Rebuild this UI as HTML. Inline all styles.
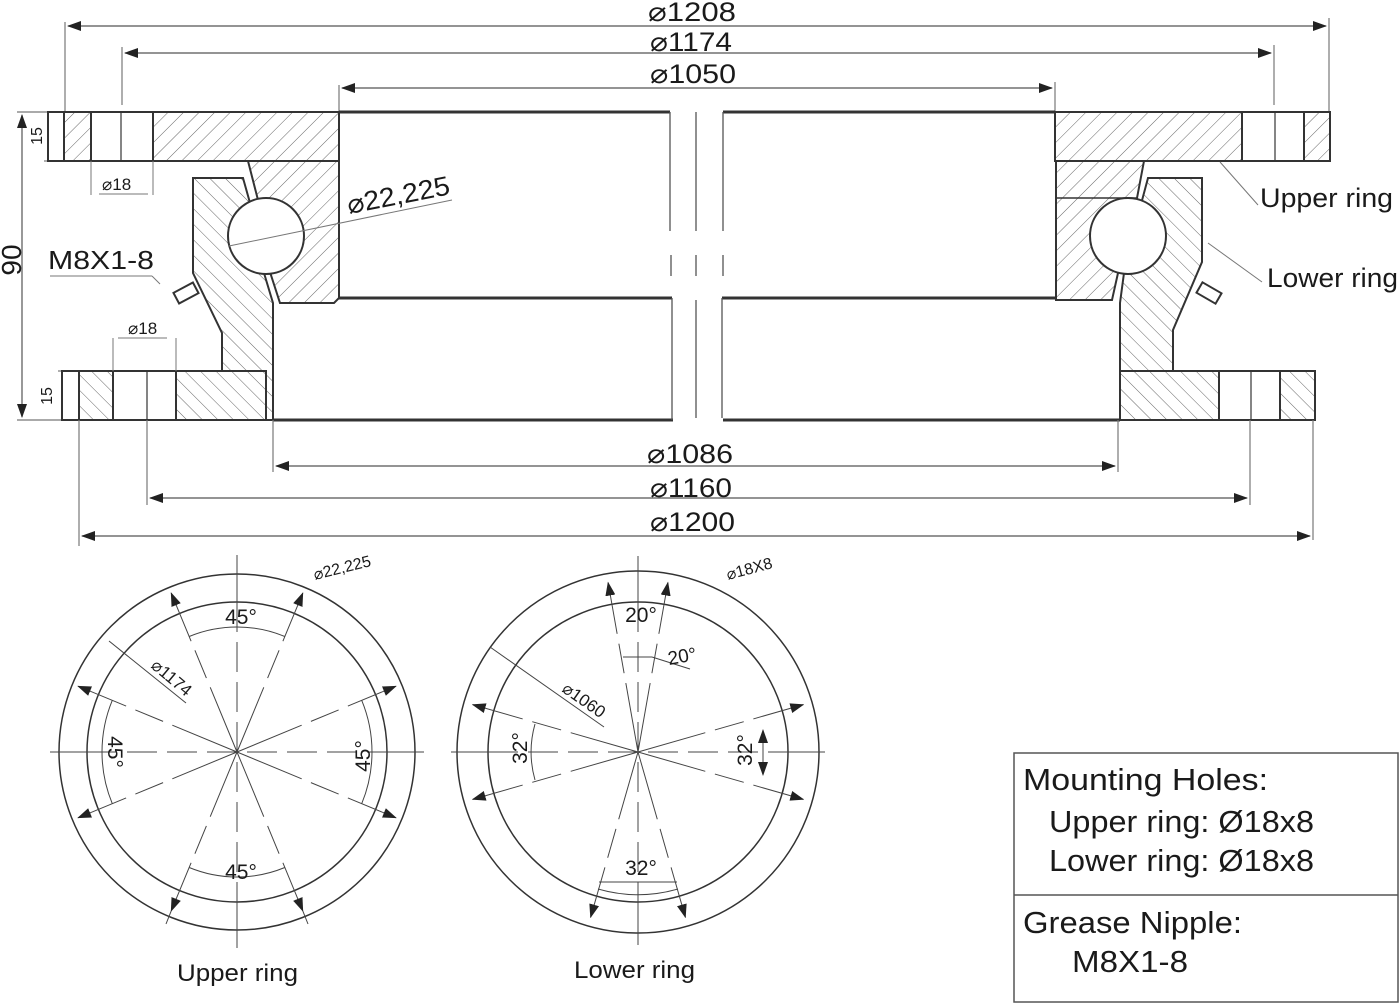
<!DOCTYPE html>
<html><head><meta charset="utf-8"><style>
html,body{margin:0;padding:0;background:#fff;}
svg{display:block;}
text{font-family:"Liberation Sans",sans-serif;fill:#1a1a1a;}
</style></head><body>
<svg width="1400" height="1004" viewBox="0 0 1400 1004" xmlns="http://www.w3.org/2000/svg">
<defs>
<pattern id="hu" patternUnits="userSpaceOnUse" width="11" height="11" patternTransform="rotate(45)">
<rect width="11" height="11" fill="#fff"/><line x1="0" y1="0" x2="0" y2="11" stroke="#555" stroke-width="0.9"/></pattern>
<pattern id="hl" patternUnits="userSpaceOnUse" width="11" height="11" patternTransform="rotate(-45)">
<rect width="11" height="11" fill="#fff"/><line x1="0" y1="0" x2="0" y2="11" stroke="#555" stroke-width="0.9"/></pattern>
<marker id="ar" markerWidth="14" markerHeight="10" refX="13" refY="5" orient="auto" markerUnits="userSpaceOnUse">
<path d="M0,0 L14,5 L0,10 z" fill="#222"/></marker>
<marker id="as" markerWidth="14" markerHeight="10" refX="1" refY="5" orient="auto" markerUnits="userSpaceOnUse">
<path d="M14,0 L0,5 L14,10 z" fill="#222"/></marker>
</defs>

<g stroke="#777" stroke-width="1.2" fill="none">
<line x1="65" y1="22" x2="65" y2="112"/><line x1="1329" y1="18" x2="1329" y2="112"/>
<line x1="122" y1="47" x2="122" y2="105"/><line x1="1274" y1="45" x2="1274" y2="105"/>
<line x1="339" y1="85" x2="339" y2="112"/><line x1="1055" y1="82" x2="1055" y2="112"/>
</g>
<g stroke="#555" stroke-width="1.2">
<line x1="68" y1="26" x2="1326" y2="26" marker-start="url(#as)" marker-end="url(#ar)"/>
<line x1="125" y1="53" x2="1271" y2="53" marker-start="url(#as)" marker-end="url(#ar)"/>
<line x1="342" y1="88" x2="1052" y2="88" marker-start="url(#as)" marker-end="url(#ar)"/>
</g>
<text x="648" y="21" font-size="27" textLength="88" lengthAdjust="spacingAndGlyphs">⌀1208</text>
<text x="650" y="51" font-size="27" textLength="82" lengthAdjust="spacingAndGlyphs">⌀1174</text>
<text x="650" y="83" font-size="27" textLength="86" lengthAdjust="spacingAndGlyphs">⌀1050</text>

<g stroke="#777" stroke-width="1.2">
<line x1="17" y1="112" x2="48" y2="112"/><line x1="17" y1="420" x2="62" y2="420"/>
<line x1="44" y1="161" x2="48" y2="161"/><line x1="58" y1="371" x2="62" y2="371"/>
</g>
<line x1="22" y1="115" x2="22" y2="417" stroke="#555" stroke-width="1.2" marker-start="url(#as)" marker-end="url(#ar)"/>
<text transform="translate(21,260) rotate(-90)" font-size="28" text-anchor="middle">90</text>
<text transform="translate(42,136) rotate(-90)" font-size="16" text-anchor="middle">15</text>
<text transform="translate(52,396) rotate(-90)" font-size="16" text-anchor="middle">15</text>

<g stroke="#333" stroke-width="2">
<rect x="48" y="112" width="16" height="49" fill="#fff"/>
<rect x="64" y="112" width="27" height="49" fill="url(#hu)"/>
<rect x="91" y="112" width="62" height="49" fill="#fff"/>
<line x1="121" y1="112" x2="121" y2="161" stroke-width="1.2"/>
<rect x="153" y="112" width="186" height="49" fill="url(#hu)"/>
<polygon points="248,161 339,161 339,298 334,303 280,303 270,272 266,236 258,200" fill="url(#hu)"/>
<rect x="-11" y="-6" width="22" height="12" fill="#fff" transform="translate(186,293) rotate(-28)"/>
<polygon points="193,178 243,178 252,210 266,236 264,273 273,303 273,420 266,420 266,371 222,371 222,333 193,273" fill="url(#hl)"/>
<rect x="62" y="371" width="17" height="49" fill="#fff"/>
<rect x="79" y="371" width="34" height="49" fill="url(#hl)"/>
<rect x="113" y="371" width="63" height="49" fill="#fff"/>
<line x1="147" y1="371" x2="147" y2="420" stroke-width="1.2"/>
<rect x="176" y="371" width="90" height="49" fill="url(#hl)"/>
<circle cx="266" cy="236" r="38" fill="#fff"/>
</g>
<g stroke="#333" stroke-width="2">
<rect x="1055" y="112" width="187" height="49" fill="url(#hu)"/>
<rect x="1242" y="112" width="62" height="49" fill="#fff"/>
<line x1="1275" y1="112" x2="1275" y2="161" stroke-width="1.2"/>
<rect x="1304" y="112" width="26" height="49" fill="url(#hu)"/>
<polygon points="1056,161 1144,161 1137,198 1128,236 1118,273 1112,300 1056,300" fill="url(#hu)"/>
<line x1="1056" y1="198" x2="1138" y2="198" stroke-width="1.5"/>
<rect x="-11" y="-6" width="22" height="12" fill="#fff" transform="translate(1209,293) rotate(30)"/>
<polygon points="1148,178 1202,178 1202,262 1173,330 1173,371 1120,371 1120,303 1124,273 1128,236 1140,208" fill="url(#hl)"/>
<rect x="1120" y="371" width="99" height="49" fill="url(#hl)"/>
<rect x="1219" y="371" width="61" height="49" fill="#fff"/>
<line x1="1251" y1="371" x2="1251" y2="420" stroke-width="1.2"/>
<rect x="1280" y="371" width="35" height="49" fill="url(#hl)"/>
<circle cx="1128" cy="236" r="38" fill="#fff"/>
</g>

<g stroke="#333" stroke-width="3">
<line x1="339" y1="112" x2="670" y2="112"/><line x1="723" y1="112" x2="1055" y2="112"/>
<line x1="339" y1="298" x2="672" y2="298"/><line x1="722" y1="298" x2="1056" y2="298"/>
<line x1="273" y1="420" x2="673" y2="420"/><line x1="723" y1="420" x2="1120" y2="420"/>
</g>
<g stroke="#555" stroke-width="1.3">
<line x1="670" y1="112" x2="670" y2="231"/><line x1="723" y1="112" x2="723" y2="231"/>
<line x1="696" y1="112" x2="696" y2="231"/>
<line x1="671" y1="255" x2="671" y2="276"/><line x1="696" y1="255" x2="696" y2="276"/><line x1="723" y1="255" x2="723" y2="276"/>
<line x1="672" y1="298" x2="672" y2="420"/><line x1="696" y1="300" x2="696" y2="418"/><line x1="722" y1="298" x2="722" y2="418"/>
</g>

<g stroke="#777" stroke-width="1">
<line x1="91" y1="161" x2="91" y2="195"/><line x1="153" y1="161" x2="153" y2="195"/>
<line x1="99" y1="194" x2="148" y2="194"/>
<line x1="113" y1="338" x2="113" y2="371"/><line x1="176" y1="338" x2="176" y2="371"/>
<line x1="118" y1="338" x2="167" y2="338"/>
<line x1="229" y1="246" x2="452" y2="200"/>
<line x1="50" y1="276" x2="152" y2="276"/><line x1="152" y1="276" x2="160" y2="284"/>
<line x1="1220" y1="162" x2="1258" y2="205"/>
<line x1="1208" y1="243" x2="1262" y2="282"/>
</g>
<text x="102" y="190" font-size="17">⌀18</text>
<text x="128" y="334" font-size="17">⌀18</text>
<text transform="translate(349,214) rotate(-11)" font-size="27" textLength="104" lengthAdjust="spacingAndGlyphs">⌀22,225</text>
<text x="48" y="269" font-size="26" textLength="106" lengthAdjust="spacingAndGlyphs">M8X1-8</text>
<text x="1260" y="207" font-size="27" textLength="133" lengthAdjust="spacingAndGlyphs">Upper ring</text>
<text x="1267" y="287" font-size="27" textLength="131" lengthAdjust="spacingAndGlyphs">Lower ring</text>

<g stroke="#777" stroke-width="1.2">
<line x1="273" y1="420" x2="273" y2="472"/><line x1="1118" y1="420" x2="1118" y2="472"/>
<line x1="147" y1="420" x2="147" y2="505"/><line x1="1250" y1="420" x2="1250" y2="505"/>
<line x1="79" y1="420" x2="79" y2="546"/><line x1="1313" y1="420" x2="1313" y2="540"/>
</g>
<g stroke="#555" stroke-width="1.2">
<line x1="276" y1="466" x2="1115" y2="466" marker-start="url(#as)" marker-end="url(#ar)"/>
<line x1="150" y1="498" x2="1247" y2="498" marker-start="url(#as)" marker-end="url(#ar)"/>
<line x1="82" y1="536" x2="1310" y2="536" marker-start="url(#as)" marker-end="url(#ar)"/>
</g>
<text x="647" y="463" font-size="27" textLength="86" lengthAdjust="spacingAndGlyphs">⌀1086</text>
<text x="650" y="497" font-size="27" textLength="82" lengthAdjust="spacingAndGlyphs">⌀1160</text>
<text x="650" y="531" font-size="27" textLength="85" lengthAdjust="spacingAndGlyphs">⌀1200</text>

<g fill="none" stroke="#333" stroke-width="1.5">
<circle cx="237" cy="752" r="178"/><circle cx="237" cy="752" r="150"/>
</g>
<g stroke="#444" stroke-width="1">
<line x1="50" y1="752" x2="87" y2="752"/><line x1="387" y1="752" x2="424" y2="752"/>
<line x1="87" y1="752" x2="387" y2="752" stroke-dasharray="30 10"/>
<line x1="237" y1="555" x2="237" y2="602"/><line x1="237" y1="902" x2="237" y2="948"/>
<line x1="237" y1="602" x2="237" y2="902" stroke-dasharray="30 10"/>
<g stroke-dasharray="70 10 30 10" marker-end="url(#ar)">
<line x1="237" y1="752" x2="302.8" y2="593.1"/><line x1="237" y1="752" x2="171.2" y2="593.1"/>
<line x1="237" y1="752" x2="302.8" y2="910.9"/><line x1="237" y1="752" x2="171.2" y2="910.9"/>
<line x1="237" y1="752" x2="395.9" y2="686.2"/><line x1="237" y1="752" x2="78.1" y2="686.2"/>
<line x1="237" y1="752" x2="395.9" y2="817.8"/><line x1="237" y1="752" x2="78.1" y2="817.8"/>
</g>
<line x1="302.8" y1="910.9" x2="308" y2="924"/><line x1="171.2" y1="910.9" x2="166" y2="924"/>
<line x1="109" y1="641" x2="186" y2="703"/>
</g>
<g fill="none" stroke="#444" stroke-width="1">
<path d="M189.2,636.5 A125,125 0 0 1 284.8,636.5"/>
<path d="M189.2,867.5 A125,125 0 0 0 284.8,867.5"/>
<path d="M112.3,700.3 A135,135 0 0 0 112.3,803.7"/>
<path d="M361.7,700.3 A135,135 0 0 1 361.7,803.7"/>
</g>
<text x="241" y="624" font-size="21" text-anchor="middle">45°</text>
<text x="241" y="879" font-size="21" text-anchor="middle">45°</text>
<text transform="translate(108,752) rotate(90)" font-size="21" text-anchor="middle">45°</text>
<text transform="translate(370,756) rotate(-90)" font-size="21" text-anchor="middle">45°</text>
<text transform="translate(150,667) rotate(40)" font-size="17">⌀1174</text>
<text transform="translate(315,580) rotate(-14)" font-size="16">⌀22,225</text>
<text x="177" y="981" font-size="24" textLength="121" lengthAdjust="spacingAndGlyphs">Upper ring</text>

<g fill="none" stroke="#333" stroke-width="1.5">
<circle cx="638" cy="752" r="181"/><circle cx="638" cy="752" r="150"/>
</g>
<g stroke="#444" stroke-width="1">
<line x1="451" y1="752" x2="488" y2="752"/><line x1="788" y1="752" x2="825" y2="752"/>
<line x1="488" y1="752" x2="788" y2="752" stroke-dasharray="30 10"/>
<line x1="638" y1="556" x2="638" y2="602"/><line x1="638" y1="902" x2="638" y2="945"/>
<line x1="638" y1="602" x2="638" y2="902" stroke-dasharray="30 10"/>
<g stroke-dasharray="70 10 30 10" marker-end="url(#ar)">
<line x1="638" y1="752" x2="608.1" y2="582.6"/><line x1="638" y1="752" x2="667.9" y2="582.6"/>
<line x1="638" y1="752" x2="803.3" y2="704.6"/><line x1="638" y1="752" x2="803.3" y2="799.4"/>
<line x1="638" y1="752" x2="472.7" y2="704.6"/><line x1="638" y1="752" x2="472.7" y2="799.4"/>
<line x1="638" y1="752" x2="590.6" y2="917.3"/><line x1="638" y1="752" x2="685.4" y2="917.3"/>
</g>
<line x1="490" y1="647" x2="604" y2="727"/>
<line x1="623" y1="657" x2="652" y2="657"/><line x1="652" y1="657" x2="690" y2="669"/>
<line x1="599" y1="882" x2="677" y2="882"/>
<line x1="763" y1="730" x2="763" y2="775" marker-start="url(#as)" marker-end="url(#ar)"/>
</g>
<g fill="none" stroke="#444" stroke-width="1">
<path d="M535,724 A103,103 0 0 0 535,780"/>
<path d="M598,889 A145,145 0 0 0 678,889"/>
</g>
<text x="641" y="622" font-size="21" text-anchor="middle">20°</text>
<text transform="translate(669,665) rotate(-10)" font-size="19">20°</text>
<text x="641" y="875" font-size="21" text-anchor="middle">32°</text>
<text transform="translate(527,748) rotate(-90)" font-size="21" text-anchor="middle">32°</text>
<text transform="translate(752,750) rotate(-90)" font-size="21" text-anchor="middle">32°</text>
<text transform="translate(561,691) rotate(35)" font-size="17">⌀1060</text>
<text transform="translate(728,580) rotate(-15)" font-size="16">⌀18X8</text>
<text x="574" y="978" font-size="24" textLength="121" lengthAdjust="spacingAndGlyphs">Lower ring</text>

<rect x="1014" y="753" width="384" height="249" fill="none" stroke="#555" stroke-width="1.5"/>
<line x1="1014" y1="895" x2="1398" y2="895" stroke="#555" stroke-width="1.5"/>
<text x="1023" y="790" font-size="31" textLength="245" lengthAdjust="spacingAndGlyphs">Mounting Holes:</text>
<text x="1049" y="832" font-size="31" textLength="265" lengthAdjust="spacingAndGlyphs">Upper ring: Ø18x8</text>
<text x="1049" y="871" font-size="31" textLength="265" lengthAdjust="spacingAndGlyphs">Lower ring: Ø18x8</text>
<text x="1023" y="933" font-size="31" textLength="219" lengthAdjust="spacingAndGlyphs">Grease Nipple:</text>
<text x="1072" y="972" font-size="31" textLength="116" lengthAdjust="spacingAndGlyphs">M8X1-8</text>
</svg>
</body></html>
